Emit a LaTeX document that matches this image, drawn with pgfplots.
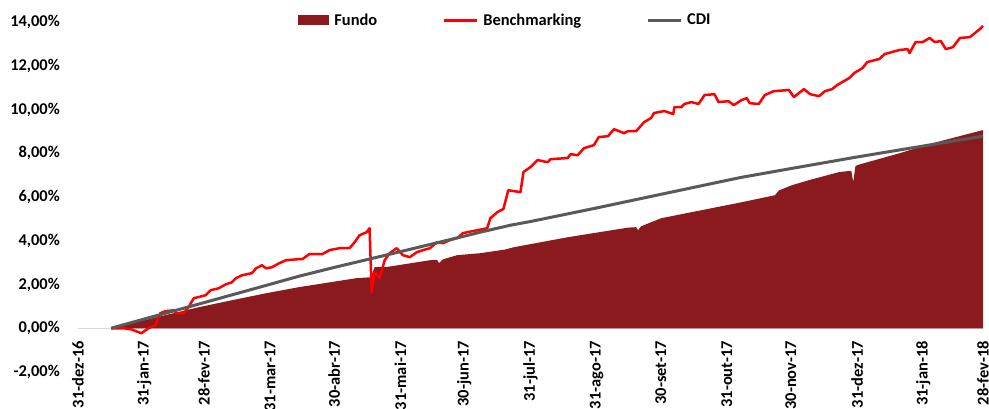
\documentclass[border=0pt]{standalone}
\usepackage{pgfplots}
\pgfplotsset{compat=1.18}
\usepackage{fontspec}
\setmainfont{Carlito}
\definecolor{fundo}{RGB}{139,26,31}
\definecolor{bench}{RGB}{255,0,0}
\definecolor{cdi}{RGB}{89,89,89}
\definecolor{zeroline}{RGB}{217,217,217}
\newcommand{\lblfont}{\fontsize{16.5}{19}\selectfont\bfseries}
\begin{document}
\begin{tikzpicture}
\begin{axis}[
  at={(0,0)}, anchor=south west,
  scale only axis, width=905bp, height=350bp,
  xmin=0, xmax=424, ymin=-2, ymax=14,
  axis line style={draw=none},
  tick style={draw=none},
  clip=false,
  xtick={0,31,59,90,120,151,181,212,243,273,304,334,365,396,424},
  xticklabels={31-dez-16,31-jan-17,28-fev-17,31-mar-17,30-abr-17,31-mai-17,30-jun-17,31-jul-17,31-ago-17,30-set-17,31-out-17,30-nov-17,31-dez-17,31-jan-18,28-fev-18},
  xticklabel style={rotate=90, anchor=east, inner sep=0pt, font=\lblfont},
  xticklabel shift=-31bp,
  ytick={-2,0,2,4,6,8,10,12,14},
  yticklabels={{-2,00\%},{0,00\%},{2,00\%},{4,00\%},{6,00\%},{8,00\%},{10,00\%},{12,00\%},{14,00\%}},
  yticklabel style={anchor=east, inner sep=0pt, font=\lblfont},
  yticklabel shift=18bp,
  extra y ticks={0}, extra y tick labels={},
  extra y tick style={grid=major, major grid style={zeroline, line width=1bp}},
  legend columns=3,
  legend style={at={(axis description cs:0.4724,1.0057)}, anchor=center,
    draw=none, fill=none, font=\lblfont, inner sep=0pt,
    /tikz/every odd column/.append style={column sep=3bp},
    /tikz/every even column/.append style={column sep=63bp}},
]
\addplot[fill=fundo, draw=none,
  legend image code/.code={\fill[fundo] (0bp,-5bp) rectangle (31bp,5bp);}]
  coordinates {
(15.5,0) (41.0,0.60) (56.5,0.96) (72.1,1.28) (88.1,1.60) (103.6,1.88) (130.5,2.29) (137.1,2.33) (139.0,2.79) (144.6,2.80) (164.9,3.11) (168.2,3.13) (169.1,2.98) (171.0,3.15) (177.6,3.34) (188.4,3.43) (200.2,3.60) (204.0,3.70) (229.4,4.16) (257.7,4.60) (261.5,4.62) (262.4,4.48) (263.8,4.66) (273.2,5.03) (310.9,5.76) (326.5,6.08) (328.4,6.30) (334.5,6.54) (342.5,6.77) (356.6,7.14) (362.3,7.20) (363.2,6.68) (364.2,7.40) (365.1,7.46) (384.9,8.00) (400.4,8.46) (424,9.06) (424,0)
};
\addlegendentry{Fundo}
\addplot[bench, line width=2.5bp, line join=round,
  legend image code/.code={\draw[bench, line width=3bp] (0bp,0bp) -- (33bp,0bp);}]
  coordinates {
(15.5,0) (21.2,0) (25.0,-0.05) (29.7,-0.23) (33.0,0) (36.3,0.14) (38.6,0.69) (41.0,0.78) (44.8,0.82) (46.2,0.69) (49.5,0.69) (51.8,0.96) (54.2,1.37) (59.8,1.51) (62.2,1.74) (66.0,1.83) (69.3,2.01) (72.1,2.10) (74.0,2.29) (76.8,2.42) (81.5,2.52) (83.4,2.74) (86.2,2.88) (88.1,2.74) (90.9,2.79) (94.2,2.97) (97.5,3.11) (103.6,3.16) (105.1,3.16) (108.4,3.39) (114.5,3.39) (117.8,3.57) (122.5,3.66) (127.2,3.66) (129.6,3.93) (131.9,4.25) (135.2,4.39) (136.6,4.57) (137.6,1.65) (139.0,2.56) (141.3,2.29) (143.7,3.11) (146.0,3.43) (149.3,3.66) (152.2,3.34) (155.5,3.25) (158.8,3.48) (161.6,3.57) (164.9,3.66) (168.2,3.93) (171.0,3.89) (174.3,4.03) (177.6,4.12) (180.4,4.35) (187.0,4.48) (191.7,4.57) (193.2,5.03) (196.5,5.31) (199.3,5.45) (201.6,6.31) (207.3,6.22) (208.7,7.14) (212.0,7.37) (215.3,7.69) (220.0,7.59) (221.4,7.73) (229.4,7.78) (230.8,7.96) (234.1,7.91) (237.0,8.23) (241.7,8.37) (244.0,8.74) (248.3,8.78) (251.1,9.10) (255.8,8.92) (257.7,9.01) (261.5,9.01) (265.2,9.42) (268.5,9.61) (269.9,9.84) (274.7,9.93) (278.9,9.79) (279.4,10.11) (282.7,10.11) (284.1,10.25) (287.4,10.34) (290.7,10.25) (293.5,10.66) (298.2,10.70) (300.1,10.34) (304.8,10.38) (307.2,10.20) (310.9,10.43) (313.3,10.52) (314.7,10.29) (318.9,10.25) (321.8,10.66) (326.0,10.84) (333.1,10.89) (335.4,10.57) (340.1,10.93) (343.0,10.70) (347.2,10.61) (350.0,10.84) (353.3,10.93) (355.7,11.12) (361.4,11.44) (363.7,11.67) (367.5,11.89) (369.8,12.17) (375.5,12.31) (377.8,12.53) (384.9,12.72) (388.7,12.76) (389.6,12.58) (392.4,13.08) (395.7,13.08) (399.0,13.27) (401.4,13.08) (404.2,13.13) (406.6,12.76) (409.9,12.85) (413.2,13.27) (417.9,13.31) (422.6,13.68) (424,13.82)
};
\addlegendentry{Benchmarking}
\addplot[cdi, line width=3bp, line join=round,
  legend image code/.code={\draw[cdi, line width=3bp] (0bp,0bp) -- (33bp,0bp);}]
  coordinates {
(15.5,0) (31,0.42) (59,1.17) (90,2.01) (103.6,2.38) (120,2.78) (151,3.50) (181,4.21) (188.4,4.39) (202.6,4.71) (212,4.88) (243,5.50) (273,6.12) (304,6.76) (310.9,6.90) (334,7.30) (365,7.83) (396,8.33) (424,8.78)
};
\addlegendentry{CDI}
\end{axis}
\pgfresetboundingbox
\useasboundingbox (-78bp,-37bp) rectangle (911bp,372bp);
\end{tikzpicture}
\end{document}
